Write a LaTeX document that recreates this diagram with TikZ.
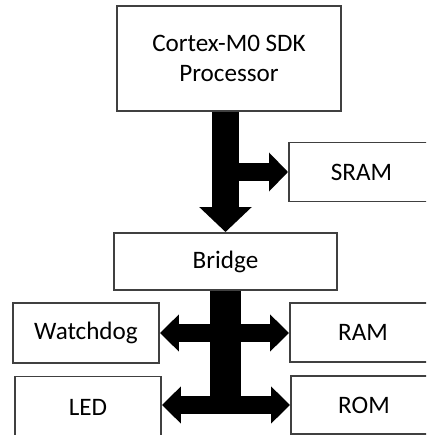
\documentclass[tikz,border=0pt]{standalone}
\usepackage{fontspec}
\setmainfont{Carlito}
\usetikzlibrary{arrows.meta}

\begin{document}
\begin{tikzpicture}[scale=0.2]
        \tikzstyle{every node}+=[inner sep=0pt]
        \tikzstyle{block}=[draw=black!75, line width=1.1pt, fill=white, font=\fontsize{14.3}{17}\selectfont, align=center]
        \tikzstyle{mainbus}=[black, line width=14.8pt, -{Triangle[width=29pt,length=14.2pt]}]
        \tikzstyle{branch}=[black, line width=10.8pt, -{Triangle[width=21.5pt,length=10.8pt]}]
        \tikzstyle{twoway}=[black, line width=10.8pt, {Triangle[width=20.5pt,length=10.8pt]}-{Triangle[width=20.5pt,length=10.8pt]}]
        \clip (0,0) rectangle (42.6,-43.5);
        \draw (22.9,-5.85) node [block, minimum width=4.48cm, minimum height=2.1cm] (proc) {Cortex-M0 SDK\\Processor};
        \draw (36.15,-17.2) node [block, minimum width=2.9cm, minimum height=1.18cm] (sram) {SRAM};
        \draw (22.55,-26.15) node [block, minimum width=4.46cm, minimum height=1.14cm] (bridge) {Bridge};
        \draw (8.6,-33.3) node [block, minimum width=2.92cm, minimum height=1.2cm] (wdog) {Watchdog};
        \draw (8.8,-40.7) node [block, minimum width=2.92cm, minimum height=1.22cm] (led) {LED};
        \draw (36.3,-33.25) node [block, minimum width=2.92cm, minimum height=1.18cm] (ram) {RAM};
        \draw (36.4,-40.5) node [block, minimum width=2.92cm, minimum height=1.16cm] (rom) {ROM};
        \draw [branch] (proc.south |- sram.west) -- (sram.west);
        \draw [mainbus] (proc.south -| bridge.north) -- (bridge.north);
        \draw [black, line width=18.2pt] (bridge.south) -- (bridge.south |- rom.west);
        \draw [twoway] (wdog.east) -- (wdog.east -| ram.west);
        \draw [twoway] (led.east |- rom.west) -- (rom.west);
\end{tikzpicture}
\end{document}
